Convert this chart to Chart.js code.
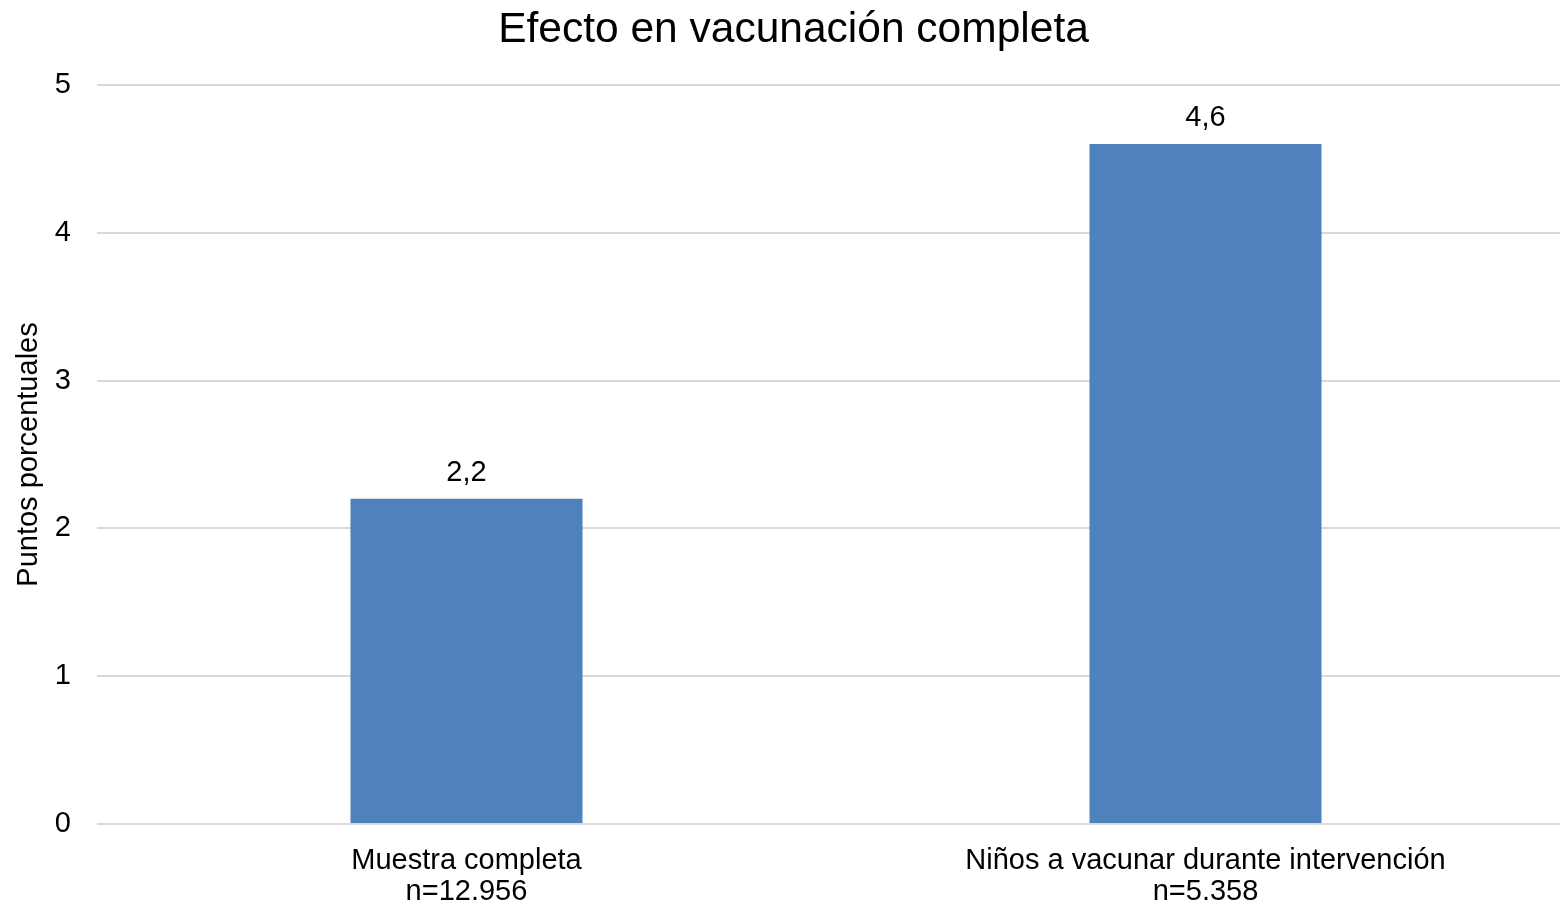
<!DOCTYPE html>
<html>
<head>
<meta charset="utf-8">
<script src="https://cdn.jsdelivr.net/npm/chart.js@4/dist/chart.umd.min.js"></script>
<style>
    html, body { margin: 0; padding: 0; background: #ffffff; overflow: hidden; }
    #wrap { width: 1575px; height: 907px; }
</style>
</head>
<body>
<div id="wrap"><canvas id="efectoChart"></canvas></div>
<script>
const categories = [['Muestra completa', 'n=12.956'], ['Niños a vacunar durante intervención', 'n=5.358']];
const values = [2.2, 4.6];
const valueLabels = ['2,2', '4,6'];
const yTicks = [0, 1, 2, 3, 4, 5];

const fontFamily = '"Liberation Sans", Arial, sans-serif';

// dibuja las etiquetas de valor encima de cada barra
const barLabels = {
    id: 'barLabels',
    afterDatasetsDraw(chart) {
        const ctx = chart.ctx;
        const meta = chart.getDatasetMeta(0);
        ctx.save();
        ctx.fillStyle = '#000000';
        ctx.font = '29px ' + fontFamily;
        ctx.textAlign = 'center';
        ctx.textBaseline = 'alphabetic';
        meta.data.forEach((bar, i) => {
            ctx.fillText(valueLabels[i], bar.x, bar.y - 18);
        });
        ctx.restore();
    }
};

new Chart(document.getElementById('efectoChart'), {
    type: 'bar',
    data: {
        labels: categories,
        datasets: [{
            data: values,
            backgroundColor: '#4f81bd',
            borderWidth: 0,
            categoryPercentage: 0.314,
            barPercentage: 1.0
        }]
    },
    options: {
        responsive: true,
        maintainAspectRatio: false,
        animation: false,
        layout: {padding: {left: 12, right: 0, top: 0, bottom: 0}},
        scales: {
            x: {
                afterFit: axis => { axis.height = 83; },
                grid: {display: false, drawTicks: false},
                border: {display: false},
                ticks: {
                    color: '#000000',
                    font: {family: fontFamily, size: 29, lineHeight: 1.05},
                    padding: 22,
                    maxRotation: 0
                }
            },
            y: {
                min: 0,
                max: 5,
                afterBuildTicks: axis => { axis.ticks = yTicks.map(v => ({value: v})); },
                afterFit: axis => { axis.width = 85; },
                grid: {color: '#d9d9d9', lineWidth: 2, drawTicks: false},
                border: {display: false},
                ticks: {
                    color: '#000000',
                    font: {family: fontFamily, size: 29},
                    padding: 26
                },
                title: {
                    display: true,
                    text: 'Puntos porcentuales',
                    color: '#000000',
                    font: {family: fontFamily, size: 29},
                    padding: {top: 0, bottom: 6}
                }
            }
        },
        plugins: {
            legend: {display: false},
            tooltip: {enabled: false},
            title: {
                display: true,
                text: 'Efecto en vacunación completa',
                color: '#000000',
                font: {family: fontFamily, size: 42.5, weight: 'normal'},
                padding: {top: 5, bottom: 29}
            }
        }
    },
    plugins: [barLabels]
});
</script>
</body>
</html>
